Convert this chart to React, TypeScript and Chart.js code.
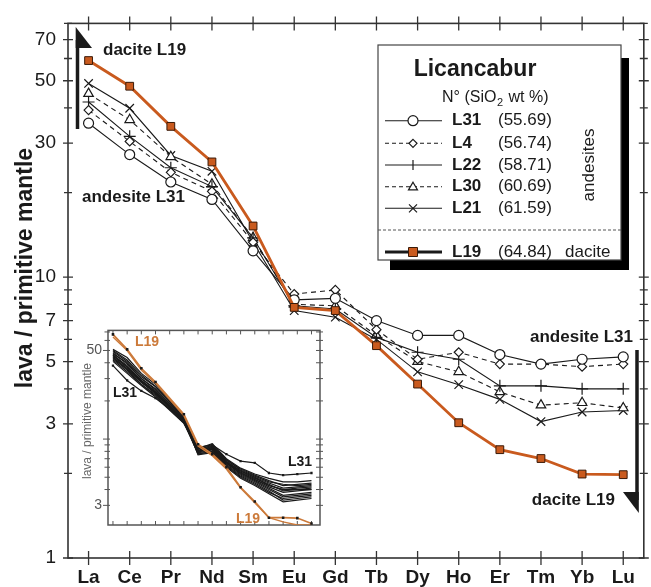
import React, { useEffect, useRef } from "react";
import { Chart, registerables } from "chart.js";

Chart.register(...registerables);

// ---------- data ----------
const elements = ["La", "Ce", "Pr", "Nd", "Sm", "Eu", "Gd", "Tb", "Dy", "Ho", "Er", "Tm", "Yb", "Lu"];
const yTickLabels = [1, 3, 5, 7, 10, 30, 50, 70];

const L19 = [59, 47.8, 34.4, 25.7, 15.2, 7.8, 7.6, 5.7, 4.16, 3.03, 2.43, 2.26, 1.99, 1.98];
const L31 = [35.3, 27.3, 21.8, 18.9, 12.4, 8.3, 8.4, 7.0, 6.2, 6.2, 5.3, 4.9, 5.1, 5.2];
const L4 = [39.3, 30.4, 23.6, 20.2, 13.3, 8.7, 9.0, 6.5, 5.1, 5.4, 4.9, 4.9, 4.8, 4.9];
const L22 = [42, 31.7, 24.5, 21, 13.8, 7.9, 7.7, 6.1, 5.4, 5.1, 4.1, 4.1, 4.0, 4.0];
const L30 = [45, 36.3, 26.8, 21.4, 13.8, 8.0, 7.9, 6.2, 5.0, 4.6, 3.9, 3.5, 3.57, 3.42];
const L21 = [48.9, 39.9, 27.1, 23.8, 13.3, 7.6, 7.2, 6.0, 4.6, 4.14, 3.67, 3.06, 3.31, 3.35];

const legendRows = [
  { name: "L31", sio2: "(55.69)" },
  { name: "L4", sio2: "(56.74)" },
  { name: "L22", sio2: "(58.71)" },
  { name: "L30", sio2: "(60.69)" },
  { name: "L21", sio2: "(61.59)" },
];
const daciteRow = { name: "L19", sio2: "(64.84)" };

// inset: x positions on a 15-slot REE axis (Pm slot = 4 left empty)
const insetX = [0, 1, 2, 3, 5, 6, 7, 8, 9, 10, 11, 12, 13, 14];
const insetL19 = [67, 51, 36.2, 28.2, 15.7, 9.1, 7.6, 6.0, 4.17, 3.22, 2.4, 2.4, 2.38, 2.16];
const insetL19b = [64, 50, 35, 27.5, 15.3, 8.8, 7.4, 5.8, 4.1, 3.15, 2.4, 2.22, 2.1, 2.1];
const insetL31 = [38, 29, 24, 21, 14.2, 8.6, 9.0, 7.6, 6.7, 6.5, 5.4, 5.2, 5.3, 5.4];
const insetAndesites = [
  [51, 44, 33, 27, 15.2, 8.0, 8.8, 6.6, 5.6, 5.0, 4.5, 4.1, 4.2, 4.3],
  [49, 41, 31, 26, 14.8, 7.9, 8.4, 6.4, 5.4, 4.8, 4.2, 3.8, 3.9, 4.0],
  [47, 40, 30, 25, 14.5, 8.2, 8.6, 6.8, 5.8, 5.2, 4.7, 4.3, 4.4, 4.5],
  [46, 38, 29, 24, 14.2, 7.8, 8.2, 6.3, 5.2, 4.6, 4.0, 3.5, 3.6, 3.7],
  [45, 37, 29, 23.5, 14.0, 8.4, 9.2, 7.0, 5.9, 5.3, 4.9, 4.6, 4.6, 4.7],
  [44, 36, 28, 23, 13.8, 7.6, 8.0, 6.2, 5.1, 4.5, 3.9, 3.3, 3.4, 3.5],
  [43, 35, 27, 22.5, 13.6, 8.1, 8.5, 6.6, 5.5, 4.9, 4.4, 3.9, 4.0, 4.1],
  [42, 34, 27, 22, 13.4, 7.7, 7.9, 6.1, 5.0, 4.4, 3.8, 3.4, 3.5, 3.6],
  [48, 39, 30, 24.5, 14.6, 8.3, 8.9, 6.9, 5.7, 5.1, 4.6, 4.4, 4.3, 4.4],
  [50, 42, 32, 26, 15.0, 8.0, 8.3, 6.5, 5.3, 4.7, 4.1, 3.6, 3.7, 3.8],
  [41, 33, 26.5, 21.5, 13.3, 8.5, 8.7, 6.7, 5.6, 5.0, 4.3, 4.0, 4.1, 4.2],
  [46, 37, 28.5, 23.5, 14.3, 7.5, 7.8, 6.0, 4.9, 4.3, 3.7, 3.2, 3.3, 3.4],
  [44, 35.5, 28, 23, 13.9, 8.0, 8.4, 6.5, 5.4, 4.8, 4.3, 4.0, 4.0, 4.0],
];

// ---------- styles ----------
const FONT = "'Liberation Sans', Arial, Helvetica, sans-serif";
const ORANGE = "#c95a1e";
const ORANGE_INSET = "#cc7a3a";
const INK = "#1a1a1a";
const FRAME = "#333333";

function drawMarker(ctx: CanvasRenderingContext2D, style: string, x: number, y: number, r: number) {
  ctx.save();
  ctx.lineWidth = 1.2;
  ctx.strokeStyle = INK;
  ctx.fillStyle = "#ffffff";
  ctx.setLineDash([]);
  ctx.beginPath();
  if (style === "circle") {
    ctx.arc(x, y, r, 0, Math.PI * 2);
    ctx.fill();
    ctx.stroke();
  } else if (style === "diamond") {
    ctx.moveTo(x, y - r);
    ctx.lineTo(x + r, y);
    ctx.lineTo(x, y + r);
    ctx.lineTo(x - r, y);
    ctx.closePath();
    ctx.fill();
    ctx.stroke();
  } else if (style === "plus") {
    ctx.moveTo(x, y - r);
    ctx.lineTo(x, y + r);
    ctx.stroke();
  } else if (style === "triangle") {
    ctx.moveTo(x, y - r);
    ctx.lineTo(x + r, y + r * 0.7);
    ctx.lineTo(x - r, y + r * 0.7);
    ctx.closePath();
    ctx.fill();
    ctx.stroke();
  } else if (style === "x") {
    ctx.moveTo(x - r, y - r);
    ctx.lineTo(x + r, y + r);
    ctx.moveTo(x + r, y - r);
    ctx.lineTo(x - r, y + r);
    ctx.stroke();
  } else if (style === "square") {
    ctx.fillStyle = ORANGE;
    ctx.rect(x - r, y - r, 2 * r, 2 * r);
    ctx.fill();
    ctx.strokeStyle = "#3a1a08";
    ctx.lineWidth = 1;
    ctx.stroke();
  }
  ctx.restore();
}

const legendStyles = [
  { marker: "circle", dash: [] as number[], r: 5 },
  { marker: "diamond", dash: [4, 3], r: 4 },
  { marker: "plus", dash: [], r: 5 },
  { marker: "triangle", dash: [4, 3], r: 4.5 },
  { marker: "x", dash: [], r: 4 },
];

const mainDecor = {
  id: "mainDecor",
  beforeDatasetsDraw(chart: any) {
    const { ctx } = chart;
    const { left, right, top, bottom } = chart.chartArea;
    const x = chart.scales.x;
    const y = chart.scales.y;
    ctx.save();
    // frame
    ctx.strokeStyle = FRAME;
    ctx.lineWidth = 1.6;
    ctx.strokeRect(left, top, right - left, bottom - top);
    // y ticks (crossing both vertical borders)
    const yTicks = [1, 2, 3, 4, 5, 6, 7, 8, 9, 10, 20, 30, 40, 50, 60, 70, 80];
    ctx.lineWidth = 1.3;
    yTicks.forEach((v) => {
      const py = y.getPixelForValue(v);
      const len = yTickLabels.includes(v) ? 5 : 4;
      ctx.beginPath();
      ctx.moveTo(left - len, py);
      ctx.lineTo(left + len, py);
      ctx.moveTo(right - len, py);
      ctx.lineTo(right + len, py);
      ctx.stroke();
    });
    // x ticks crossing top and bottom borders
    elements.forEach((_, i) => {
      const px = x.getPixelForValue(i);
      ctx.beginPath();
      ctx.moveTo(px, bottom - 7);
      ctx.lineTo(px, bottom + 7);
      ctx.moveTo(px, top - 7);
      ctx.lineTo(px, top + 7);
      ctx.stroke();
    });
    // y title
    ctx.fillStyle = INK;
    ctx.font = `bold 23px ${FONT}`;
    ctx.textAlign = "center";
    ctx.textBaseline = "middle";
    ctx.translate(26, 268);
    ctx.rotate(-Math.PI / 2);
    ctx.fillText("lava / primitive mantle", 0, 0);
    ctx.restore();
  },
  afterDatasetsDraw(chart: any) {
    const { ctx } = chart;
    ctx.save();
    ctx.fillStyle = INK;
    ctx.strokeStyle = INK;
    // left arrow
    ctx.lineWidth = 3.5;
    ctx.beginPath();
    ctx.moveTo(77.5, 40);
    ctx.lineTo(77.5, 129);
    ctx.stroke();
    ctx.beginPath();
    ctx.moveTo(75.7, 27);
    ctx.lineTo(92, 48);
    ctx.lineTo(75.7, 48);
    ctx.closePath();
    ctx.fill();
    // right arrow
    ctx.beginPath();
    ctx.moveTo(637, 350);
    ctx.lineTo(637, 500);
    ctx.stroke();
    ctx.beginPath();
    ctx.moveTo(623, 492);
    ctx.lineTo(638.8, 492);
    ctx.lineTo(638.8, 513);
    ctx.closePath();
    ctx.fill();
    // annotation text
    ctx.font = `bold 17px ${FONT}`;
    ctx.textBaseline = "middle";
    ctx.textAlign = "left";
    ctx.fillText("dacite L19", 103, 50);
    ctx.fillText("andesite L31", 82, 197);
    ctx.textAlign = "right";
    ctx.fillText("andesite L31", 633, 337);
    ctx.fillText("dacite L19", 615, 500);

    // legend box with shadow
    ctx.fillStyle = "#000";
    ctx.fillRect(390, 58, 239, 212);
    ctx.fillStyle = "#fff";
    ctx.fillRect(378, 45, 243, 215);
    ctx.strokeStyle = "#444";
    ctx.lineWidth = 1.2;
    ctx.strokeRect(378, 45, 243, 215);

    ctx.fillStyle = INK;
    ctx.textAlign = "center";
    ctx.font = `bold 23px ${FONT}`;
    ctx.fillText("Licancabur", 475, 70);
    ctx.textAlign = "left";
    ctx.font = `16px ${FONT}`;
    let tx = 442;
    ctx.fillText("N° (SiO", tx, 98);
    tx += ctx.measureText("N° (SiO").width;
    ctx.font = `11px ${FONT}`;
    ctx.fillText("2", tx + 0.5, 103);
    tx += ctx.measureText("2").width + 6;
    ctx.font = `16px ${FONT}`;
    ctx.fillText("wt %)", tx, 98);

    const rowsY = [120.7, 143.3, 165, 186.7, 208.3];
    legendRows.forEach((row, i) => {
      const ry = rowsY[i];
      const st = legendStyles[i];
      ctx.save();
      ctx.strokeStyle = INK;
      ctx.lineWidth = 1.1;
      ctx.setLineDash(st.dash);
      ctx.beginPath();
      ctx.moveTo(385, ry);
      ctx.lineTo(442, ry);
      ctx.stroke();
      ctx.restore();
      drawMarker(ctx, st.marker, 413, ry, st.r);
      ctx.fillStyle = INK;
      ctx.font = `bold 17px ${FONT}`;
      ctx.fillText(row.name, 452, ry);
      ctx.font = `17px ${FONT}`;
      ctx.fillText(row.sio2, 498, ry);
    });
    // andesites rotated
    ctx.save();
    ctx.translate(589, 165);
    ctx.rotate(-Math.PI / 2);
    ctx.textAlign = "center";
    ctx.font = `17px ${FONT}`;
    ctx.fillText("andesites", 0, 0);
    ctx.restore();
    // divider
    ctx.save();
    ctx.strokeStyle = "#555";
    ctx.lineWidth = 1;
    ctx.setLineDash([3, 2]);
    ctx.beginPath();
    ctx.moveTo(378, 230);
    ctx.lineTo(621, 230);
    ctx.stroke();
    ctx.restore();
    // dacite row
    ctx.save();
    ctx.strokeStyle = INK;
    ctx.lineWidth = 3;
    ctx.beginPath();
    ctx.moveTo(385, 252);
    ctx.lineTo(442, 252);
    ctx.stroke();
    ctx.restore();
    drawMarker(ctx, "square", 413, 252, 4.5);
    ctx.fillStyle = INK;
    ctx.font = `bold 17px ${FONT}`;
    ctx.fillText(daciteRow.name, 452, 252);
    ctx.font = `17px ${FONT}`;
    ctx.fillText(daciteRow.sio2, 498, 252);
    ctx.fillText("dacite", 565, 252);
    ctx.restore();
  },
};

const insetDecor = {
  id: "insetDecor",
  beforeDatasetsDraw(chart: any) {
    const { ctx } = chart;
    const { left, right, top, bottom } = chart.chartArea;
    const x = chart.scales.x;
    const y = chart.scales.y;
    ctx.save();
    ctx.fillStyle = "#fff";
    ctx.fillRect(left, top, right - left, bottom - top);
    ctx.strokeStyle = "#555";
    ctx.lineWidth = 1.5;
    ctx.strokeRect(left, top, right - left, bottom - top);
    ctx.lineWidth = 1;
    for (let i = 0; i <= 14; i++) {
      const px = x.getPixelForValue(i);
      ctx.beginPath();
      ctx.moveTo(px, top);
      ctx.lineTo(px, top + 4);
      ctx.moveTo(px, bottom);
      ctx.lineTo(px, bottom - 4);
      ctx.stroke();
    }
    [3, 4, 5, 6, 7, 8, 9, 10, 20, 30, 40, 50, 60, 70].forEach((v) => {
      const py = y.getPixelForValue(v);
      const len = v === 3 || v === 10 || v === 50 ? 5 : 3.5;
      ctx.beginPath();
      ctx.moveTo(left - len, py);
      ctx.lineTo(left + 2, py);
      ctx.moveTo(right - 4, py);
      ctx.lineTo(right + 3, py);
      ctx.stroke();
    });
    ctx.fillStyle = "#666";
    ctx.font = `12px ${FONT}`;
    ctx.textAlign = "center";
    ctx.textBaseline = "middle";
    ctx.translate(38, 105);
    ctx.rotate(-Math.PI / 2);
    ctx.fillText("lava / primitive mantle", 0, 0);
    ctx.restore();
  },
  afterDatasetsDraw(chart: any) {
    const { ctx } = chart;
    ctx.save();
    ctx.font = `bold 14px ${FONT}`;
    ctx.textBaseline = "middle";
    ctx.textAlign = "left";
    ctx.fillStyle = ORANGE_INSET;
    ctx.fillText("L19", 85, 26);
    ctx.fillText("L19", 186, 203);
    ctx.fillStyle = INK;
    ctx.fillText("L31", 63, 77);
    ctx.textAlign = "right";
    ctx.fillText("L31", 262, 146);
    ctx.restore();
  },
};

function pts(vals: number[]) {
  return vals.map((v, i) => ({ x: insetX[i], y: v }));
}

export default function App() {
  const mainRef = useRef<HTMLCanvasElement | null>(null);
  const insetRef = useRef<HTMLCanvasElement | null>(null);

  useEffect(() => {
    const seriesCommon = {
      borderColor: INK,
      borderWidth: 1.1,
      pointBorderColor: INK,
      pointBackgroundColor: "#fff",
      pointBorderWidth: 1.2,
      tension: 0,
    };
    const main = new Chart(mainRef.current as HTMLCanvasElement, {
      type: "line",
      data: {
        labels: elements,
        datasets: [
          {
            label: "L19",
            data: L19,
            borderColor: ORANGE,
            borderWidth: 2.8,
            pointStyle: "rect",
            pointRadius: 5.5,
            pointBackgroundColor: ORANGE,
            pointBorderColor: "#3a1a08",
            pointBorderWidth: 1,
          },
          { label: "L31", data: L31, ...seriesCommon, pointStyle: "circle", pointRadius: 5 },
          { label: "L4", data: L4, ...seriesCommon, borderDash: [5, 4], pointStyle: "rectRot", pointRadius: 4.5 },
          { label: "L22", data: L22, ...seriesCommon, pointStyle: "cross", pointRadius: 6 },
          { label: "L30", data: L30, ...seriesCommon, borderDash: [5, 4], pointStyle: "triangle", pointRadius: 5.5 },
          { label: "L21", data: L21, ...seriesCommon, pointStyle: "crossRot", pointRadius: 6 },
        ],
      },
      options: {
        animation: false,
        responsive: false,
        maintainAspectRatio: false,
        layout: { padding: { top: 20, right: 3, left: 0, bottom: 0 } },
        plugins: { legend: { display: false }, tooltip: { enabled: false } },
        scales: {
          x: {
            type: "category",
            offset: true,
            grid: { display: false, drawTicks: false },
            border: { display: false },
            ticks: { color: INK, font: { family: FONT, size: 19, weight: "bold" }, padding: 8, autoSkip: false, maxRotation: 0 },
            afterFit: (s: any) => {
              s.height = 29;
            },
          },
          y: {
            type: "logarithmic",
            min: 1,
            max: 80,
            grid: { display: false, drawTicks: false },
            border: { display: false },
            ticks: {
              color: INK,
              font: { family: FONT, size: 19 },
              padding: 12,
              autoSkip: false,
              callback: (v: any) => (yTickLabels.includes(Number(v)) ? String(v) : ""),
            },
            afterFit: (s: any) => {
              s.width = 68;
            },
          },
        },
      } as any,
      plugins: [mainDecor],
    });

    const insetDatasets: any[] = [
      {
        data: pts(insetL19),
        borderColor: ORANGE_INSET,
        borderWidth: 1.6,
        pointStyle: "rect",
        pointRadius: 1.8,
        pointBackgroundColor: INK,
        pointBorderColor: INK,
        pointBorderWidth: 0,
      },
      {
        data: pts(insetL19b),
        borderColor: ORANGE_INSET,
        borderWidth: 1.4,
        pointRadius: 0,
      },
      {
        data: pts(insetL31),
        borderColor: INK,
        borderWidth: 1.2,
        pointStyle: "rect",
        pointRadius: 1.6,
        pointBackgroundColor: INK,
        pointBorderColor: INK,
        pointBorderWidth: 0,
      },
      ...insetAndesites.map((vals) => ({
        data: pts(vals),
        borderColor: INK,
        borderWidth: 1.2,
        pointRadius: 0,
      })),
    ];

    const inset = new Chart(insetRef.current as HTMLCanvasElement, {
      type: "line",
      data: { datasets: insetDatasets },
      options: {
        animation: false,
        responsive: false,
        maintainAspectRatio: false,
        layout: { padding: { top: 12, right: 10, left: 0, bottom: 0 } },
        plugins: { legend: { display: false }, tooltip: { enabled: false } },
        scales: {
          x: {
            type: "linear",
            min: -0.35,
            max: 14.6,
            grid: { display: false, drawTicks: false },
            border: { display: false },
            ticks: {
              stepSize: 1,
              autoSkip: false,
              maxRotation: 0,
              color: "#666",
              padding: 6,
              font: { family: FONT, size: 13 },
              callback: (v: any) => (v === 0 ? "La" : v === 14 ? "Lu" : ""),
            },
            afterFit: (s: any) => {
              s.height = 46;
            },
          },
          y: {
            type: "logarithmic",
            min: 2.1,
            max: 72,
            grid: { display: false, drawTicks: false },
            border: { display: false },
            ticks: {
              autoSkip: false,
              color: "#555",
              padding: 6,
              font: { family: FONT, size: 14 },
              callback: (v: any) => (Number(v) === 50 || Number(v) === 3 ? String(v) : ""),
            },
            afterFit: (s: any) => {
              s.width = 58;
            },
          },
        },
      } as any,
      plugins: [insetDecor],
    });

    return () => {
      main.destroy();
      inset.destroy();
    };
  }, []);

  return (
    <div style={{ position: "absolute", left: 0, top: 0, width: 651, height: 587, background: "#fff" }}>
      <canvas ref={mainRef} width={651} height={587} style={{ position: "absolute", left: 0, top: 0, width: 651, height: 587 }} />
      <canvas ref={insetRef} width={280} height={255} style={{ position: "absolute", left: 50, top: 316, width: 280, height: 255 }} />
    </div>
  );
}
